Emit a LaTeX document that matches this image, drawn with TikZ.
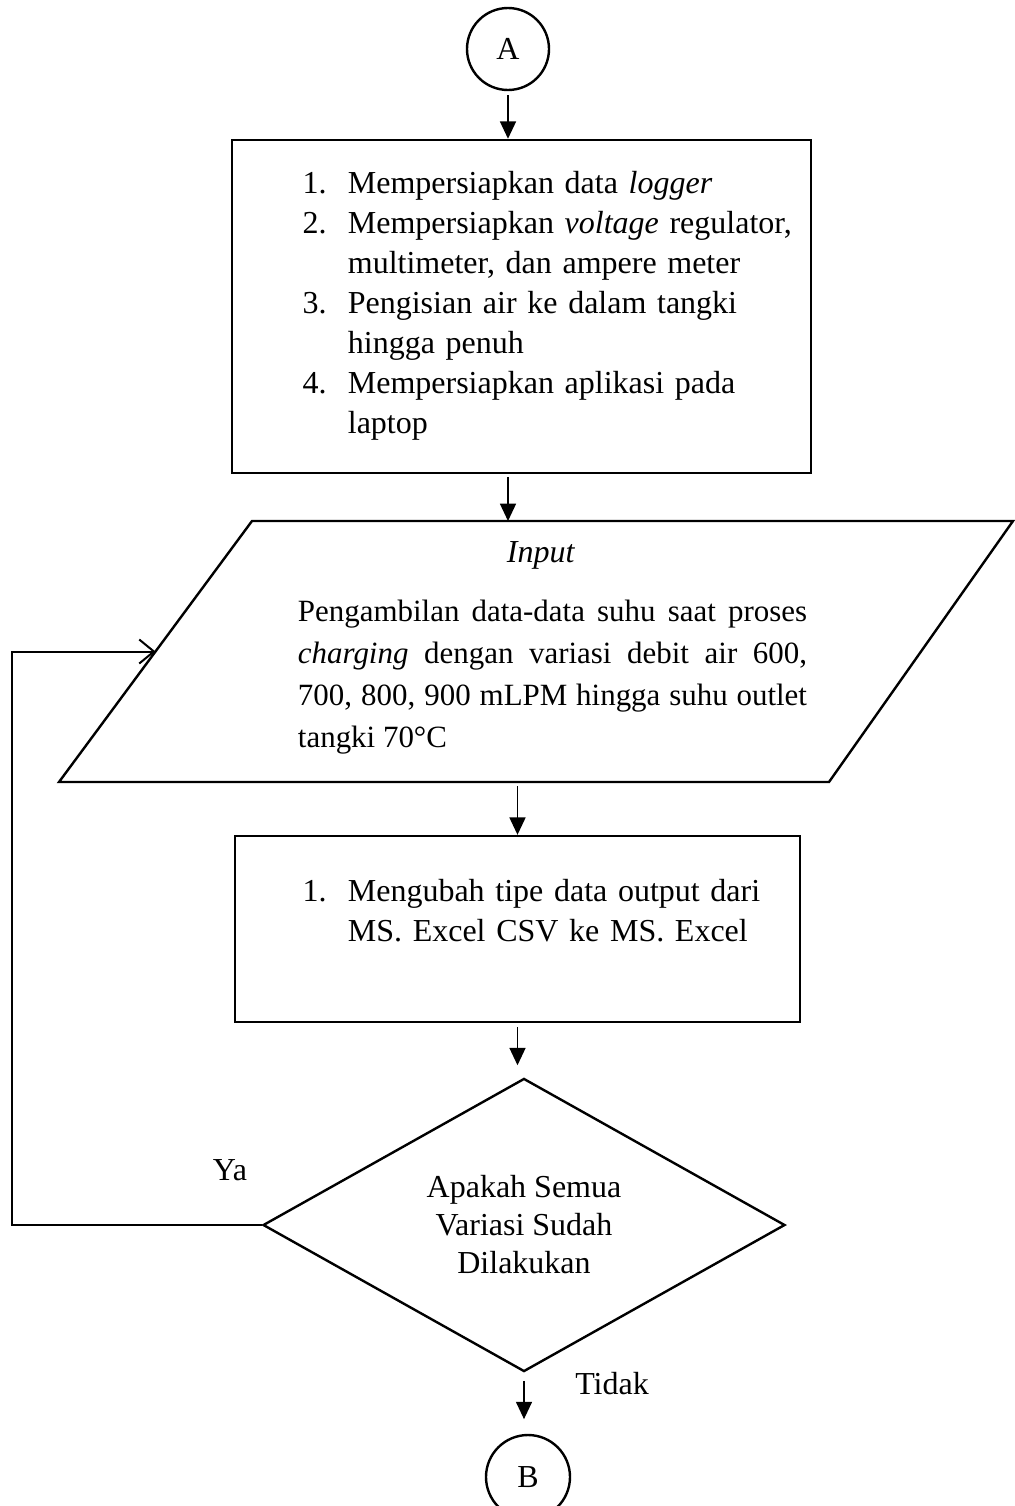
\documentclass[tikz,border=0pt]{standalone}
\usepackage{fontspec}
\setmainfont{Liberation Serif}
\usetikzlibrary{shapes.geometric,arrows.meta,calc}

\newcommand{\numitem}[1]{\makebox[17pt][l]{#1}}
\newcommand{\contline}{\hspace*{17pt}}
\newcommand{\fullline}[1]{\makebox[190.9pt][s]{#1}}

\begin{document}
\begin{tikzpicture}[x=0.375pt, y=-0.375pt,
    every node/.style={font=\fontsize{12}{14.25}\selectfont},
    listtext/.style={anchor=west, inner sep=0pt, text width=200pt, align=left, font=\fontsize{12}{15}\selectfont},
    box/.style={draw, line width=0.9pt, inner sep=0pt},
    arr/.style={-{Triangle[width=6pt,length=6.5pt]}, line width=0.55pt},
    looparr/.style={-{Straight Barb[width=9pt,length=5.5pt]}, line width=0.75pt}]
    \useasboundingbox (0,0) rectangle (1014,1506);

    \node[box, circle, minimum size=30.75pt] (A) at (508,49) {A};

    \node[box, minimum width=217.1pt, minimum height=124.9pt] (prep) at (521.5,306.5) {};
    \node[listtext] (preptxt) at (302,306) {%
        \numitem{1.}Mempersiapkan data \textit{logger}\\
        \numitem{2.}Mempersiapkan \textit{voltage} regulator,\\
        \contline multimeter, dan ampere meter\\
        \numitem{3.}Pengisian air ke dalam tangki\\
        \contline hingga penuh\\
        \numitem{4.}Mempersiapkan aplikasi pada\\
        \contline laptop};

    \coordinate (pTL) at (252,521);
    \coordinate (pTR) at (1013,521);
    \coordinate (pBR) at (829,782);
    \coordinate (pBL) at (59,782);
    \coordinate (inpW) at ($(pBL)!0.5!(pTL)$);
    \draw[box] (pTL) -- (pTR) -- (pBR) -- (pBL) -- cycle;
    \node (inptitle) at (541,555) {\textit{Input}};
    \node[text width=190.9pt, inner sep=0pt, align=left, font=\fontsize{11.6}{15.75}\selectfont] (inptxt) at (552.5,677) {%
        \spaceskip=0.25em plus 0.2em minus 0.1em
        \fullline{Pengambilan data-data suhu saat proses}\\
        \fullline{\textit{charging} dengan variasi debit air 600,}\\
        \fullline{700, 800, 900 mLPM hingga suhu outlet}\\
        tangki 70°C};

    \node[box, minimum width=211.9pt, minimum height=69.75pt] (conv) at (517.5,929) {};
    \node[listtext] (convtxt) at (302,911) {%
        \numitem{1.}\makebox[162pt][s]{Mengubah tipe data output dari}\\
        \contline MS. Excel CSV ke MS. Excel};

    \node[box, diamond, minimum width=195.75pt, minimum height=107.25pt, align=center] (chk) at (524,1225) {Apakah Semua\\Variasi Sudah\\Dilakukan};
    \node (ya) at (230,1170) {Ya};
    \node (tdk) at (612,1384) {Tidak};

    \node[box, circle, minimum size=31.5pt] (B) at (528,1477) {B};

    \draw[arr, shorten <=1.5pt] (A) -- (A |- prep.north);
    \draw[arr, shorten <=1pt] (prep.south -| A) -- (A |- pTL);
    \draw[arr, shorten <=1.5pt] (conv |- pBL) -- (conv.north);
    \draw[arr, shorten <=1.5pt, shorten >=4.5pt] (conv.south) -- (conv.south |- chk.north);
    \draw[arr, shorten <=3pt, shorten >=5.5pt] (chk.south) -- (chk.south |- B.north);
    \coordinate (loopx) at (12,1225);
    \draw[looparr] (chk.west) -- (loopx) |- (inpW);
\end{tikzpicture}
\end{document}
